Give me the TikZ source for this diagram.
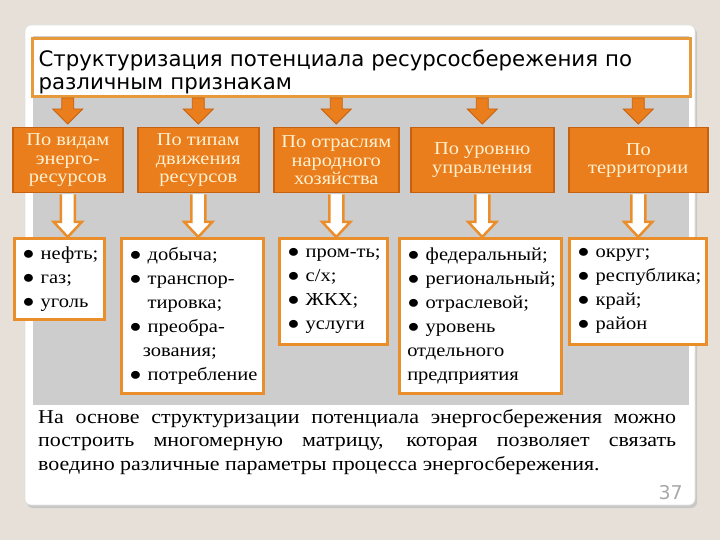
\documentclass[tikz,border=0pt]{standalone}
\usepackage{fontspec}
\setmainfont{Liberation Serif}[FakeStretch=1.12]
\newfontfamily\titlefont{DejaVu Sans}
\newfontfamily\numfont{DejaVu Sans}
\usetikzlibrary{calc}
\definecolor{bgc}{HTML}{E6E0D8}
\definecolor{panel}{HTML}{CDCDCD}
\definecolor{org}{HTML}{EA7D1C}
\definecolor{orgd}{HTML}{C6620F}
\definecolor{orgl}{HTML}{EA8E2C}
\definecolor{orgt}{HTML}{E69A3C}
\definecolor{cream}{HTML}{FFF2D2}
\definecolor{numgray}{HTML}{A8A8A8}
\newcommand\bl{●~}
\begin{document}
\begin{tikzpicture}[x=1pt,y=-1pt,
  catbox/.style={draw=orgd, line width=1.5pt, fill=org, text=cream, align=center,
    font=\fontsize{18.2}{18.5}\selectfont, inner sep=0pt, anchor=north west},
  listbox/.style={draw=orgl, line width=2.5pt, fill=white, align=left,
    font=\fontsize{18.3}{24}\selectfont, inner xsep=8pt, inner ysep=0pt, anchor=north west},
  toparrow/.style={fill=org, draw=orgd, line width=0.8pt, line join=miter},
  harrow/.style={fill=white, draw=orgl, line width=2.5pt, line join=miter},
]
\useasboundingbox (0,0) rectangle (720,540);
\fill[bgc] (0,0) rectangle (720,540);
% card
\fill[black!22, rounded corners=6pt] (27,28) rectangle (697,508);
\fill[white, rounded corners=6pt] (25,25) rectangle (695,505);
\draw[black!12, rounded corners=6pt, line width=0.6pt] (25,25) rectangle (695,505);
% gray panel
\fill[panel] (33,36) rectangle (689,405);
% title
\node[draw=orgt, line width=3pt, fill=white, anchor=north west, minimum width=658pt,
  minimum height=58pt, text width=646pt, inner xsep=6pt, inner ysep=0pt, align=left,
  font=\titlefont\fontsize{21.3}{23}\selectfont] (title) at (31,37)
  {\rule{0pt}{26pt}Структуризация потенциала ресурсосбережения по\\различным признакам};
% category boxes
\node[catbox, minimum width=110pt, minimum height=65pt] (o1) at (12,127) {По видам\\энерго-\\ресурсов};
\node[catbox, minimum width=121pt, minimum height=65pt] (o2) at (137,127) {По типам\\движения\\ресурсов};
\node[catbox, minimum width=125pt, minimum height=65pt] (o3) at (273,127) {По отраслям\\народного\\хозяйства};
\node[catbox, minimum width=143pt, minimum height=65pt] (o4) at (410,127) {По уровню\\управления};
\node[catbox, minimum width=139pt, minimum height=65pt] (o5) at (568,127) {По\\территории};
% list boxes
\node[listbox, text width=74pt, minimum height=81pt] (l1) at (13,237)
  {\bl нефть;\\\bl газ;\\\bl уголь};
\node[listbox, text width=126pt, minimum height=155pt] (l2) at (120,237)
  {\bl добыча;\\\bl транспор-\\\phantom{●~}тировка;\\\bl преобра-\\\hspace*{0.75em}зования;\\\bl потребление};
\node[listbox, text width=92pt, minimum height=106pt] (l3) at (278,237)
  {\bl \mbox{пром-ть;}\\\bl с/х;\\\bl ЖКХ;\\\bl услуги};
\node[listbox, text width=146pt, minimum height=155pt] (l4) at (398,237)
  {\bl федеральный;\\\bl региональный;\\\bl отраслевой;\\\bl уровень\\отдельного\\предприятия};
\node[listbox, text width=121pt, minimum height=106pt] (l5) at (568,237)
  {\bl округ;\\\bl республика;\\\bl край;\\\bl район};
% arrows
\foreach \i in {1,...,5}{
  \draw[toparrow] ($(o\i.north)+(-6,-29)$) -- ($(o\i.north)+(6,-29)$) -- ($(o\i.north)+(6,-18)$)
    -- ($(o\i.north)+(15,-18)$) -- ($(o\i.north)+(0,-3)$) -- ($(o\i.north)+(-15,-18)$)
    -- ($(o\i.north)+(-6,-18)$) -- cycle;
  \coordinate (t\i) at (o\i.south |- l\i.north);
  \fill[white] ($(o\i.south)+(-7,1)$) -- ($(t\i)+(-7,-15)$) -- ($(t\i)+(-14,-15)$) -- (t\i)
    -- ($(t\i)+(14,-15)$) -- ($(t\i)+(7,-15)$) -- ($(o\i.south)+(7,1)$) -- cycle;
  \draw[harrow] ($(o\i.south)+(-7,1)$) -- ($(t\i)+(-7,-15)$) -- ($(t\i)+(-14,-15)$) -- (t\i)
    -- ($(t\i)+(14,-15)$) -- ($(t\i)+(7,-15)$) -- ($(o\i.south)+(7,1)$);
}
% paragraph
\node[anchor=north west, text width=638pt, inner sep=0pt, align=justify,
  font=\fontsize{19.6}{23.5}\selectfont] (para) at (38,409)
  {На основе структуризации потенциала энергосбережения можно\linebreak
   построить многомерную матрицу, которая позволяет связать\linebreak
   воедино различные параметры процесса энергосбережения.};
\node[anchor=north east, inner sep=0pt, text=numgray, font=\numfont\fontsize{19}{19}\selectfont] (num) at (683,485) {37};
\end{tikzpicture}
\end{document}
